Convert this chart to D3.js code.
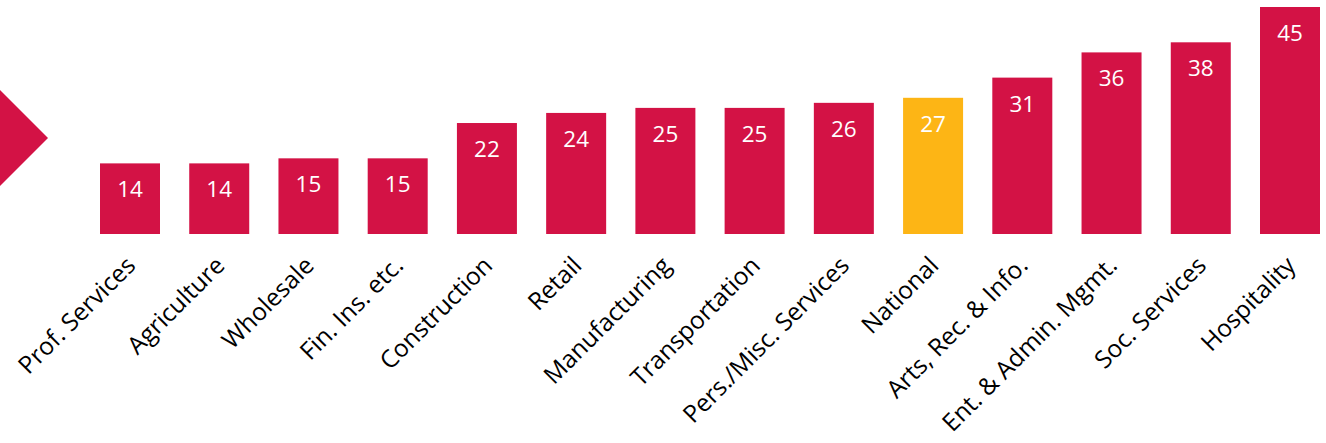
<!DOCTYPE html>
<html>
<head>
<meta charset="utf-8">
<script src="https://cdn.jsdelivr.net/npm/d3@7"></script>
<style>
  html, body { margin: 0; padding: 0; background: #fff; }
  svg { display: block; font-family: "Open Sans", "Noto Sans", sans-serif; }
</style>
</head>
<body>
<svg id="chart" width="1326" height="443"></svg>
<script>
// Industries, ordered by value
const categories = [
  "Prof. Services", "Agriculture", "Wholesale", "Fin. Ins. etc.", "Construction",
  "Retail", "Manufacturing", "Transportation", "Pers./Misc. Services", "National",
  "Arts, Rec. & Info.", "Ent. & Admin. Mgmt.", "Soc. Services", "Hospitality"
];
const values = [14, 14, 15, 15, 22, 24, 25, 25, 26, 27, 31, 36, 38, 45];
const highlight = ["National"];

const RED = "#D31245";
const GOLD = "#FDB515";

const svg = d3.select("#chart");
const baseline = 234;

const x = d3.scaleBand()
  .domain(categories)
  .range([100, 1320])
  .paddingInner(0.3276)
  .paddingOuter(0);

const y = d3.scaleLinear()
  .domain([0, 45])
  .range([baseline, 7]);

// Arrow marker on the left edge
svg.append("path")
  .attr("d", d3.line()([[0, 90], [48, 138], [0, 186]]) + "Z")
  .attr("fill", RED);

const data = categories.map((c, i) => ({ name: c, value: values[i] }));

svg.append("g").selectAll("rect")
  .data(data)
  .join("rect")
  .attr("x", d => x(d.name))
  .attr("y", d => y(d.value))
  .attr("width", x.bandwidth())
  .attr("height", d => baseline - y(d.value))
  .attr("fill", d => highlight.includes(d.name) ? GOLD : RED);

// Value labels inside the bars
svg.append("g").selectAll("text")
  .data(data)
  .join("text")
  .attr("x", d => x(d.name) + x.bandwidth() / 2)
  .attr("y", d => y(d.value) + 34)
  .attr("text-anchor", "middle")
  .attr("fill", "#fff")
  .attr("font-size", 22.5)
  .text(d => d.value);

// Rotated category labels
const axis = d3.axisBottom(x).tickSize(0).tickPadding(0);
const gx = svg.append("g")
  .attr("transform", `translate(0, ${baseline})`)
  .call(axis);
gx.select(".domain").remove();
gx.selectAll(".tick text")
  .attr("font-family", "'Open Sans', 'Noto Sans', sans-serif")
  .attr("font-size", 24.5)
  .attr("fill", "#000")
  .attr("text-anchor", "end")
  .attr("dy", 0)
  .attr("y", 0)
  .attr("x", 0)
  .attr("transform", "translate(7, 33) rotate(-45)");
</script>
</body>
</html>
